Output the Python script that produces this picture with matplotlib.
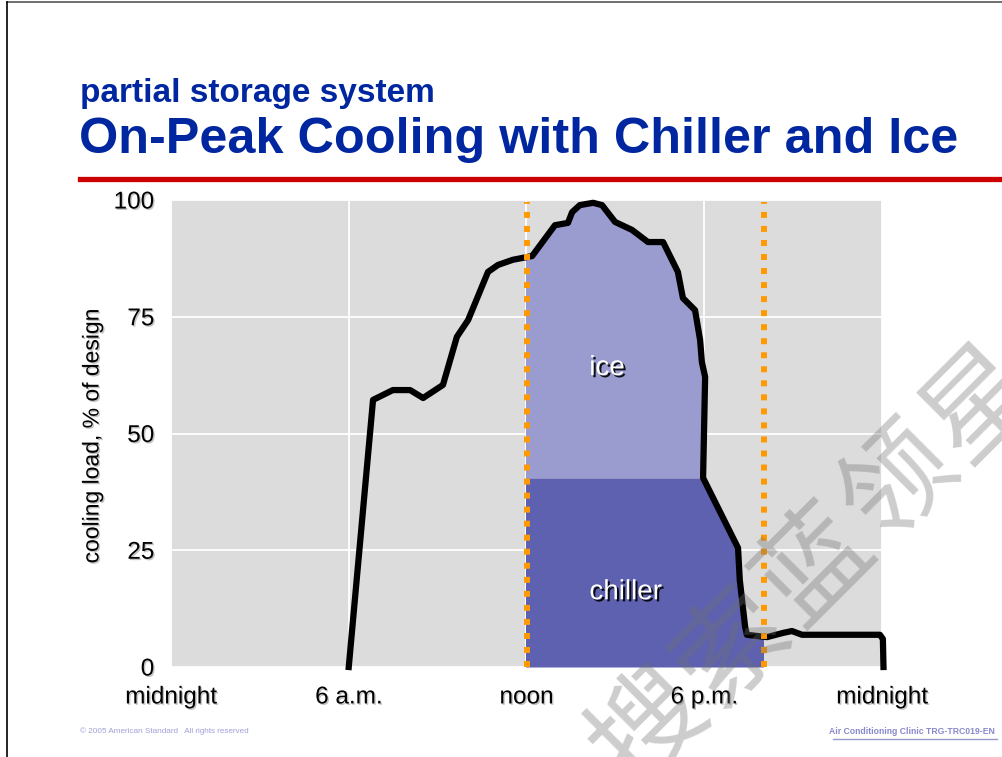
import numpy as np
import matplotlib
matplotlib.use('Agg')
import matplotlib.pyplot as plt
import matplotlib.patheffects as pe
from matplotlib.patches import Rectangle
from matplotlib.lines import Line2D

plt.rcParams['font.family'] = ['Liberation Sans', 'DejaVu Sans']

# hour of day vs cooling load (% of design)
hours = [6.0, 6.82, 7.49, 8.07, 8.51, 9.18, 9.65, 10.03, 10.70, 11.04, 11.54, 12.19,
         12.96, 13.40, 13.54, 13.80, 14.25, 14.55, 14.99, 15.56, 16.10, 16.61, 17.11,
         17.28, 17.69, 17.86, 17.92, 18.03, 17.96, 19.14, 19.20, 19.38, 19.44, 20.12,
         20.66, 20.96, 21.30, 23.93, 24.03, 24.05]
load = [0, 57.2, 59.3, 59.3, 57.6, 60.4, 70.7, 74.3, 84.6, 86.1, 87.2, 88.0,
        94.6, 95.1, 97.4, 98.9, 99.4, 98.9, 95.3, 93.6, 91.0, 91.0, 84.6,
        79.0, 76.4, 70.0, 65.3, 62.1, 40.5, 25.5, 18.6, 8.6, 6.9, 6.4,
        7.3, 7.7, 6.9, 6.9, 6.0, 0]
chiller_cap = 40.5          # chiller share of design load
on_peak = (12, 20)          # noon to 8 p.m.
xticks = [0, 6, 12, 18, 24]
xlabels = ['midnight', '6 a.m.', 'noon', '6 p.m.', 'midnight']
yticks = [0, 25, 50, 75, 100]

hours = np.array(hours)
load = np.array(load)

W, H = 1003, 757
fig = plt.figure(figsize=(W / 100, H / 100), dpi=100)
ax = fig.add_axes([171 / W, 1 - 667 / H, 711 / W, 467 / H])
ax.set_facecolor('#dcdcdc')
for s in ax.spines.values():
    s.set_visible(False)
ax.set_xlim(0, 24)
ax.set_ylim(0, 100)
ax.set_axisbelow(True)
ax.grid(color='white', lw=1.3)

shadow = [pe.withSimplePatchShadow(offset=(1, -1), shadow_rgbFace='#888888', alpha=0.5)]
ax.set_xticks(xticks)
ax.set_xticklabels(xlabels, fontsize=17.5, path_effects=shadow)
ax.set_yticks(yticks)
ax.set_yticklabels([str(v) for v in yticks], fontsize=17.5, path_effects=shadow)
ax.tick_params(length=0)
ax.tick_params(axis='x', pad=14)
ax.tick_params(axis='y', pad=12)

clip = Rectangle((on_peak[0], 0), on_peak[1] - on_peak[0], 100, transform=ax.transData)
ch = ax.fill_between(hours, 0, np.minimum(load, chiller_cap), color='#5d61b0', lw=0)
ch.set_clip_path(clip)
ic = ax.fill_between(hours, chiller_cap, load, where=load >= chiller_cap,
                     interpolate=True, color='#9a9cd0', lw=0)
ic.set_clip_path(clip)

ax.plot(hours, load, color='black', lw=4.5, solid_joinstyle='round', clip_on=False, zorder=4)
for xv in on_peak:
    ax.axvline(xv + 0.02, ymin=0, ymax=0.995, color='#ff9900', lw=4.3,
               linestyle=(0, (1, 1.35)), dash_capstyle='butt', zorder=5)

txt_fx = [pe.withSimplePatchShadow(offset=(1.5, -1.5), shadow_rgbFace='black', alpha=0.9)]
ax.text(14.72, 64, 'ice', color='white', fontsize=20, ha='center', va='center', path_effects=txt_fx)
ax.text(15.35, 16, 'chiller', color='white', fontsize=20, ha='center', va='center', path_effects=txt_fx)

fig.text(92 / W, 1 - 436 / H, 'cooling load, % of design', rotation=90, fontsize=16.5,
         ha='center', va='center', path_effects=shadow)

# header
blue = '#0026a0'
fig.text(80 / W, 1 - 102 / H, 'partial storage system', color=blue, fontsize=24,
         fontweight='bold', ha='left', va='baseline')
fig.text(79 / W, 1 - 153 / H, 'On-Peak Cooling with Chiller and Ice', color=blue, fontsize=36.3,
         fontweight='bold', ha='left', va='baseline')
fig.add_artist(Line2D([80 / W, 1], [1 - 179 / H] * 2, color='#cc0000', lw=3.8))

# slide frame
fig.add_artist(Line2D([7 / W, 1], [1 - 2 / H] * 2, color='#555555', lw=1.2))
fig.add_artist(Line2D([7 / W] * 2, [0, 1 - 2 / H], color='black', lw=1.2))

# footer
fig.text(80 / W, 1 - 731 / H, '\u00a9 2005 American Standard   All rights reserved',
         color='#a0a0d8', fontsize=5.9, ha='left', va='center')
fig.text(995 / W, 1 - 731 / H, 'Air Conditioning Clinic TRG-TRC019-EN', color='#8888cc',
         fontsize=6.2, fontweight='bold', ha='right', va='center')
fig.add_artist(Line2D([833 / W, 997 / W], [1 - 739 / H] * 2, color='#9999cc', lw=1))

# watermark
wm = '搜索蓝领星'
cx, cy = 815, 565
for i, c in enumerate(wm):
    px = cx + (i - 2) * 83
    py = cy - (i - 2) * 81
    fig.text(px / W, 1 - py / H, c, fontsize=80, rotation=45, color='#707070', alpha=0.35,
             ha='center', va='center', family=['Noto Sans CJK SC', 'DejaVu Sans'], zorder=10)

fig.savefig('out.png', dpi=100)
